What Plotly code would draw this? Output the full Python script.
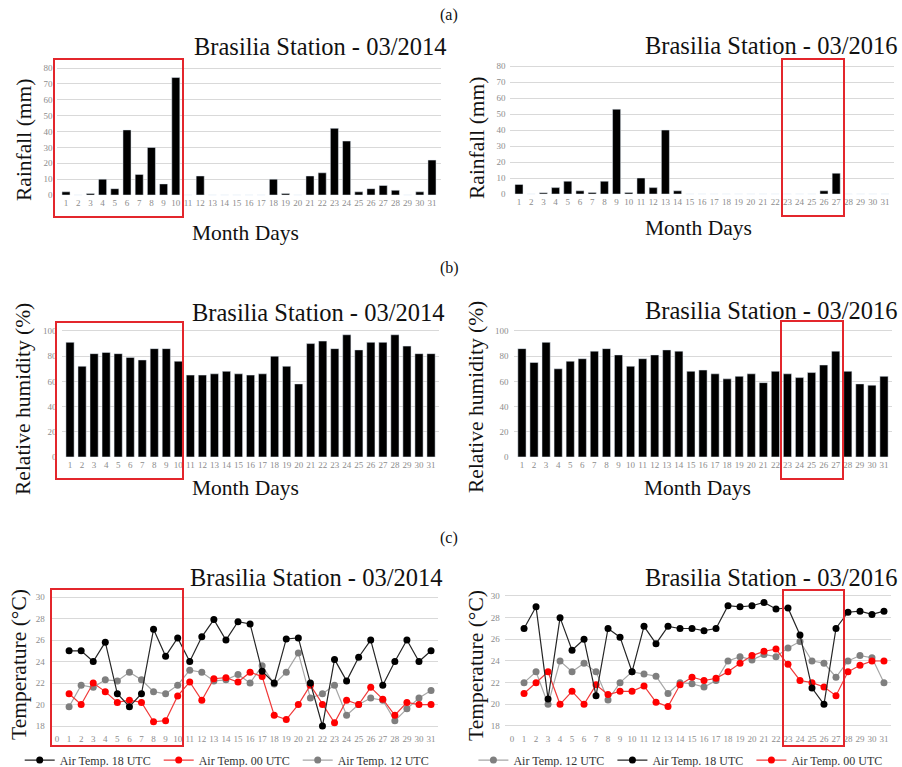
import plotly.graph_objects as go

# ---- data: Brasilia station, March 2014 vs March 2016 ----
days = list(range(1, 32))
day_labels = [str(d) for d in days]
temp_ticks = list(range(0, 32))
temp_tick_labels = [str(d) for d in temp_ticks]

rain_2014 = [2, 0, 1, 10, 4, 41, 13, 30, 7, 74, 0, 12, 0, 0, 0, 0, 0, 10, 1, 0,
             12, 14, 42, 34, 2, 4, 6, 3, 0, 2, 22]
rain_2016 = [6, 0, 0.8, 4, 8, 2, 1, 8, 53, 1, 10, 4, 40, 2, 0, 0, 0, 0, 0, 0,
             0, 0, 0, 0, 0, 2, 13, 0, 0, 0, 0]

rh_2014 = [91, 72, 82, 83, 82, 79, 77, 86, 86, 76, 65, 65, 66, 68, 66, 65, 66, 80,
           72, 58, 90, 92, 86, 97, 85, 91, 91, 97, 88, 82, 82]
rh_2016 = [86, 75, 91, 70, 76, 78, 84, 86, 81, 72, 78, 81, 85, 84, 68, 69, 66, 62,
           64, 66, 59, 68, 66, 63, 67, 73, 84, 68, 58, 57, 64]

t18_2014 = [25.0, 25.0, 24.0, 25.8, 21.0, 19.8, 21.0, 27.0, 24.5, 26.2, 24.0, 26.3,
            27.9, 26.0, 27.7, 27.5, 23.1, 22.0, 26.1, 26.2, 22.0, 18.0, 24.2, 22.2,
            24.4, 26.0, 21.8, 24.0, 26.0, 24.0, 25.0]
t00_2014 = [21.0, 20.0, 22.0, 21.2, 20.2, 20.4, 20.2, 18.4, 18.5, 20.8, 22.1, 20.4,
            22.4, 22.5, 22.1, 23.0, 22.6, 19.0, 18.6, 20.0, 21.8, 20.0, 18.3, 20.4,
            20.0, 21.6, 20.5, 19.0, 20.2, 20.0, 20.0]
t12_2014 = [19.8, 21.8, 21.6, 22.3, 22.2, 23.0, 22.3, 21.2, 21.0, 21.8, 23.2, 23.0,
            22.2, 22.3, 22.8, 22.0, 23.6, 21.9, 23.0, 24.8, 20.6, 21.0, 21.8, 19.0,
            20.0, 20.6, 20.4, 18.5, 19.6, 20.6, 21.3]

t12_2016 = [22.0, 23.0, 20.0, 24.0, 23.0, 23.8, 23.0, 20.4, 22.0, 23.0, 22.8, 22.6,
            21.0, 22.0, 21.9, 21.6, 22.2, 24.0, 24.4, 24.1, 24.6, 24.4, 25.2, 25.8,
            24.0, 23.8, 22.5, 24.0, 24.5, 24.3, 22.0]
t18_2016 = [27.0, 29.0, 20.5, 28.0, 25.0, 26.0, 20.8, 27.0, 26.2, 23.0, 27.2, 25.6,
            27.2, 27.0, 27.0, 26.8, 27.0, 29.1, 29.0, 29.1, 29.4, 28.8, 28.9, 26.4,
            21.5, 20.0, 27.0, 28.5, 28.6, 28.3, 28.6]
t00_2016 = [21.0, 22.0, 23.0, 20.0, 21.2, 20.0, 21.8, 20.9, 21.2, 21.2, 21.7, 20.2,
            19.8, 21.8, 22.5, 22.2, 22.4, 23.0, 23.8, 24.5, 24.9, 25.1, 23.7, 22.2,
            22.0, 21.6, 20.8, 23.0, 23.6, 24.0, 24.0]

title_2014 = "Brasilia Station - 03/2014"
title_2016 = "Brasilia Station - 03/2016"

SERIF = "Liberation Serif"
TICK_FONT = dict(family=SERIF, size=9, color="#8c8c8c")
GRID = "#d9d9d9"
BOX_RED = "#e3262c"

fig = go.Figure()

# ---- bars ----
fig.add_trace(go.Bar(x=days, y=rain_2014, marker_color="black", xaxis="x", yaxis="y",
                     showlegend=False, width=0.66))
fig.add_trace(go.Bar(x=days, y=rain_2016, marker_color="black", xaxis="x2", yaxis="y2",
                     showlegend=False, width=0.66))
fig.add_trace(go.Bar(x=days, y=rh_2014, marker_color="black", xaxis="x3", yaxis="y3",
                     showlegend=False, width=0.68))
fig.add_trace(go.Bar(x=days, y=rh_2016, marker_color="black", xaxis="x4", yaxis="y4",
                     showlegend=False, width=0.68))

# ---- temperature lines ----
BLACK_LINE, BLACK_MK = "#262626", "#000000"
RED_LINE, RED_MK = "#f03a3a", "#ff0000"
GRAY_LINE, GRAY_MK = "#a6a6a6", "#7f7f7f"


def temp_line(y, name, line_color, marker_color, xa, ya, legend, rank):
    return go.Scatter(x=days, y=y, name=name, mode="lines+markers",
                      line=dict(color=line_color, width=1.2),
                      marker=dict(color=marker_color, size=7),
                      xaxis=xa, yaxis=ya, legend=legend, legendrank=rank)


# 2014 legend order: 18, 00, 12
fig.add_trace(temp_line(t12_2014, "Air Temp. 12 UTC", GRAY_LINE, GRAY_MK, "x5", "y5", "legend", 3))
fig.add_trace(temp_line(t00_2014, "Air Temp. 00 UTC", RED_LINE, RED_MK, "x5", "y5", "legend", 2))
fig.add_trace(temp_line(t18_2014, "Air Temp. 18 UTC", BLACK_LINE, BLACK_MK, "x5", "y5", "legend", 1))

# 2016 legend order: 12, 18, 00
fig.add_trace(temp_line(t12_2016, "Air Temp. 12 UTC", GRAY_LINE, GRAY_MK, "x6", "y6", "legend2", 1))
fig.add_trace(temp_line(t00_2016, "Air Temp. 00 UTC", RED_LINE, RED_MK, "x6", "y6", "legend2", 3))
fig.add_trace(temp_line(t18_2016, "Air Temp. 18 UTC", BLACK_LINE, BLACK_MK, "x6", "y6", "legend2", 2))


def xax(domain, anchor, vals, labels, rng):
    return dict(domain=domain, anchor=anchor, range=rng, tickmode="array",
                tickvals=vals, ticktext=labels, tickfont=TICK_FONT, tickangle=0,
                showgrid=False, zeroline=False, showline=False, ticks="",
                fixedrange=True, automargin=False)


def yax(domain, anchor, rng, dtick, tick0):
    return dict(domain=domain, anchor=anchor, range=rng, dtick=dtick, tick0=tick0,
                tickfont=TICK_FONT, showgrid=True, gridcolor=GRID, gridwidth=1,
                zeroline=False, showline=False, ticks="", ticklabelstandoff=4,
                fixedrange=True, automargin=False)


day_range = [0.3, 31.7]
temp_range = [-0.6, 31.6]

LEGEND_STYLE = dict(orientation="h", y=0.009, xanchor="center", yanchor="middle",
                    font=dict(family=SERIF, size=12, color="#333333"),
                    traceorder="normal", itemwidth=30, entrywidth=94,
                    entrywidthmode="pixels", bgcolor="rgba(0,0,0,0)")

fig.update_layout(
    width=902, height=767,
    margin=dict(l=0, r=0, t=0, b=0, autoexpand=False),
    paper_bgcolor="white", plot_bgcolor="white",
    xaxis=xax([0.0637, 0.4884], "y", days, day_labels, day_range),
    yaxis=yax([0.7447, 0.9134], "x", [-0.5, 81], 10, 0),
    xaxis2=xax([0.5659, 0.9906], "y2", days, day_labels, day_range),
    yaxis2=yax([0.7460, 0.9160], "x2", [-0.5, 81], 10, 0),
    xaxis3=xax([0.0683, 0.4872], "y3", days, day_labels, day_range),
    yaxis3=yax([0.4034, 0.5701], "x3", [-0.5, 101], 20, 0),
    xaxis4=xax([0.5693, 0.9894], "y4", days, day_labels, day_range),
    yaxis4=yax([0.4034, 0.5701], "x4", [-0.5, 101], 20, 0),
    xaxis5=xax([0.0552, 0.4859], "y5", temp_ticks, temp_tick_labels, temp_range),
    yaxis5=yax([0.0450, 0.2258], "x5", [17.4, 30.3], 2, 18),
    xaxis6=xax([0.5597, 0.9880], "y6", temp_ticks, temp_tick_labels, temp_range),
    yaxis6=yax([0.0450, 0.2272], "x6", [17.4, 30.3], 2, 18),
    legend=dict(LEGEND_STYLE, x=0.253),
    legend2=dict(LEGEND_STYLE, x=0.756),
)


def px_x(p):
    return p / 902


def px_y(p):
    return 1 - p / 767


annotations = []


def text(s, x, y, size, angle=0):
    annotations.append(dict(text=s, x=px_x(x), y=px_y(y), xref="paper", yref="paper",
                            showarrow=False, textangle=angle, xanchor="center",
                            yanchor="middle",
                            font=dict(family=SERIF, size=size, color="#111111")))


# panel tags
text("(a)", 449, 15, 16)
text("(b)", 449, 268, 16)
text("(c)", 449, 538, 16)

# chart titles
text(title_2014, 320, 47, 24.5)
text(title_2016, 771, 46, 24.5)
text(title_2014, 318, 312, 24.5)
text(title_2016, 771, 310, 24.5)
text(title_2014, 316, 577, 24.5)
text(title_2016, 771, 577, 24.5)

# x-axis titles
text("Month Days", 246, 233, 21.5)
text("Month Days", 698, 228, 21.5)
text("Month Days", 245, 488, 21.5)
text("Month Days", 697, 488, 21.5)

# y-axis titles
text("Rainfall (mm)", 24, 140, 21.5, -90)
text("Rainfall (mm)", 477, 138, 21.5, -90)
text("Relative humidity (%)", 23, 399, 21.5, -90)
text("Relative humidity (%)", 476, 397, 21.5, -90)
text("Temperature (°C)", 19, 665, 21.5, -90)
text("Temperature (°C)", 476, 666, 21.5, -90)

fig.update_layout(annotations=annotations)

# red frames around the highlighted day windows (page pixels: left, right, top, bottom)
frames = [
    (54, 183, 59, 217),
    (782, 844, 59, 216),
    (56, 183, 322, 479),
    (781, 843, 321, 479),
    (51, 183, 589, 746),
    (783, 844, 590, 746),
]
for left, right, top, bottom in frames:
    fig.add_shape(type="rect", xref="paper", yref="paper",
                  x0=px_x(left), x1=px_x(right), y0=px_y(bottom), y1=px_y(top),
                  line=dict(color=BOX_RED, width=2), fillcolor="rgba(0,0,0,0)",
                  layer="above")

fig.write_html("out.html")
